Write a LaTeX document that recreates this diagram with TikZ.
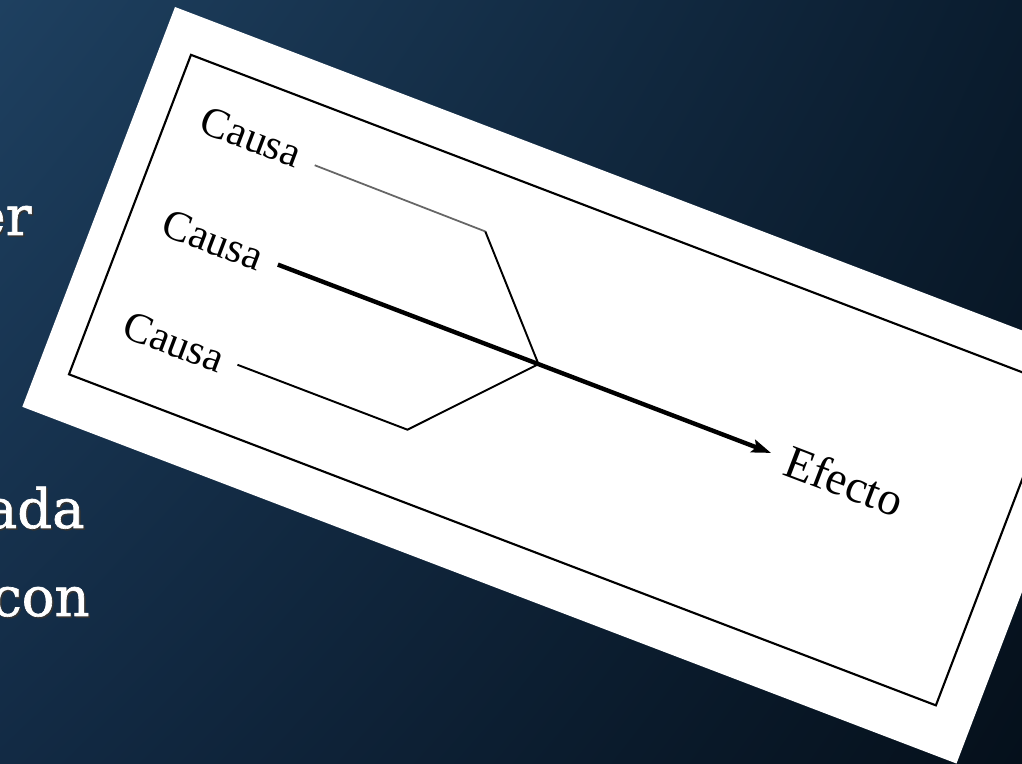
\documentclass[tikz,border=0pt]{standalone}
\usepackage{fontspec}
\setmainfont{Liberation Serif}
\newfontfamily\slabfont[FakeBold=1.2]{DejaVu Serif}
\usetikzlibrary{arrows.meta,shadings}
\definecolor{bgUL}{RGB}{30,64,96}
\definecolor{bgUR}{RGB}{10,28,46}
\definecolor{bgLL}{RGB}{18,42,68}
\definecolor{bgLR}{RGB}{5,16,27}
\tikzset{
  lefttext/.style={text=white, inner sep=0pt, font=\slabfont\fontsize{31}{36}\selectfont},
  leftshadow/.style={text=black!80, inner sep=0pt, font=\slabfont\fontsize{31}{36}\selectfont},
  causa/.style={inner sep=0pt, transform shape, font=\fontsize{24.2}{29}\selectfont},
  efecto/.style={inner sep=0pt, transform shape, font=\fontsize{26.7}{32}\selectfont},
  frameline/.style={draw=black, line width=1.2pt},
  thinline/.style={draw=black, line width=1.1pt, line join=miter},
  grayline/.style={draw=black!60, line width=1.0pt},
  mainline/.style={draw=black, line width=2.5pt, -{Stealth[length=11pt,width=7.5pt,inset=2pt]}}
}
\begin{document}
\begin{tikzpicture}[x=0.02cm,y=0.02cm]
\useasboundingbox (0,0) rectangle (1022,764);
\clip (0,0) rectangle (1022,764);
\shade[upper left=bgUL, upper right=bgUR, lower left=bgLL, lower right=bgLR] (0,0) rectangle (1022,764);
% left text fragments (clipped by the picture edge)
\node[leftshadow, anchor=base east] (t1s) at (33.5,527.5) {er};
\node[lefttext, anchor=base east] (t1) at (32,529) {er};
\node[leftshadow, anchor=base east] (t2s) at (86.5,234.5) {ada};
\node[lefttext, anchor=base east] (t2) at (85,236) {ada};
\node[leftshadow, anchor=base east] (t3s) at (91.5,146.5) {con};
\node[lefttext, anchor=base east] (t3) at (90,148) {con};
% the card
\begin{scope}[shift={(175,757)}, rotate=-20.9]
  \fill[white] (0,0) rectangle (1000,-428);
  \draw[frameline] (32,-39) rectangle (960,-381);
  \coordinate (s1) at (187,-98);
  \coordinate (b1) at (370,-99);
  \coordinate (j) at (467,-204);
  \coordinate (s2) at (188,-204);
  \coordinate (tip) at (716,-204);
  \coordinate (s3) at (186,-312);
  \coordinate (b3) at (368,-312);
  \node[causa, anchor=base east] (c1) at (170,-108) {Causa};
  \node[causa, anchor=base east] (c2) at (171,-218) {Causa};
  \node[causa, anchor=base east] (c3) at (171,-327) {Causa};
  \node[efecto, anchor=base west] (eff) at (733,-220) {Efecto};
  \draw[grayline] (s1) -- (b1);
  \draw[thinline] (b1) -- (j);
  \draw[thinline] (s3) -- (b3) -- (j);
  \draw[mainline] (s2) -- (tip);
\end{scope}
\end{tikzpicture}
\end{document}
